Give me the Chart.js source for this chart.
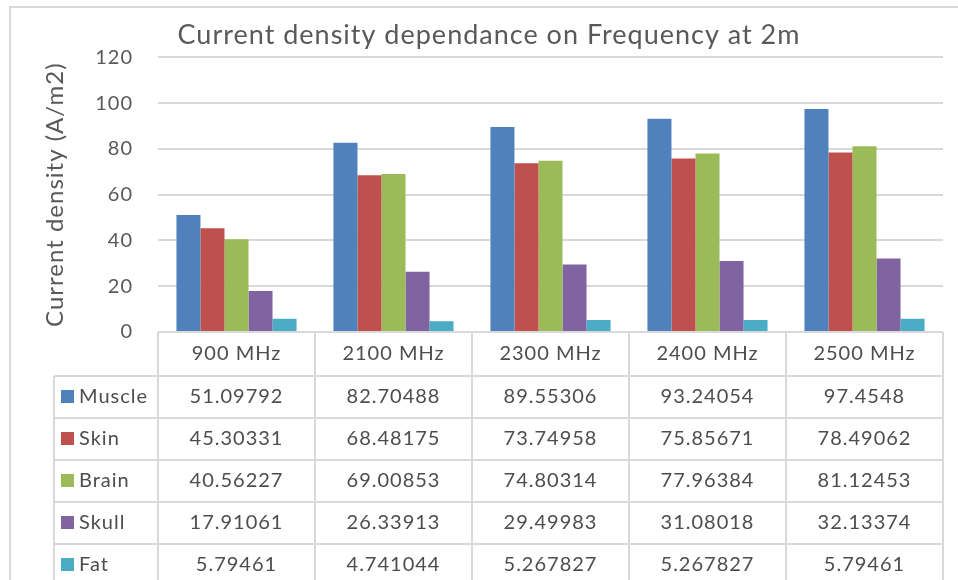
<!DOCTYPE html>
<html>
<head>
<meta charset="utf-8">
<script src="https://cdn.jsdelivr.net/npm/chart.js@4.4.1/dist/chart.umd.min.js"></script>
<style>
  html, body { margin: 0; padding: 0; background: #fff; }
  #wrap { width: 958px; height: 580px; position: relative; }
</style>
</head>
<body>
<div id="wrap"><canvas id="densityChart" width="958" height="580"></canvas></div>
<script>
const frequencies = ['900 MHz', '2100 MHz', '2300 MHz', '2400 MHz', '2500 MHz'];
const tissues     = ['Muscle', 'Skin', 'Brain', 'Skull', 'Fat'];
const tissueColors = ['#4F81BD', '#C0504D', '#9BBB59', '#8064A2', '#4BACC6'];

const muscle = [51.09792, 82.70488, 89.55306, 93.24054, 97.4548];
const skin   = [45.30331, 68.48175, 73.74958, 75.85671, 78.49062];
const brain  = [40.56227, 69.00853, 74.80314, 77.96384, 81.12453];
const skull  = [17.91061, 26.33913, 29.49983, 31.08018, 32.13374];
const fat    = [5.79461, 4.741044, 5.267827, 5.267827, 5.79461];

// cell text exactly as printed in the table
const muscleText = ['51.09792', '82.70488', '89.55306', '93.24054', '97.4548'];
const skinText   = ['45.30331', '68.48175', '73.74958', '75.85671', '78.49062'];
const brainText  = ['40.56227', '69.00853', '74.80314', '77.96384', '81.12453'];
const skullText  = ['17.91061', '26.33913', '29.49983', '31.08018', '32.13374'];
const fatText    = ['5.79461', '4.741044', '5.267827', '5.267827', '5.79461'];

const yTicks = [0, 20, 40, 60, 80, 100, 120];

const seriesValues = [muscle, skin, brain, skull, fat];
const seriesText   = [muscleText, skinText, brainText, skullText, fatText];

const FONT = 'Lato, "Open Sans", sans-serif';
const GRID = '#D9D9D9';

// frame around the whole chart (right and bottom run off the picture);
// also widen letter spacing a little, the original text is set loose
const framePlugin = {
  id: 'frame',
  beforeDraw(chart) {
    const ctx = chart.ctx;
    ctx.letterSpacing = '1px';
    ctx.save();
    ctx.strokeStyle = GRID;
    ctx.lineWidth = 2;
    ctx.strokeRect(10, 7, chart.width + 20, chart.height + 20);
    ctx.restore();
  }
};

// Excel-style data table under the plot, columns follow the x scale
const dataTablePlugin = {
  id: 'dataTable',
  afterDraw(chart) {
    const ctx = chart.ctx;
    const x = chart.scales.x;
    const area = chart.chartArea;
    const w = (area.right - area.left) / frequencies.length;
    const headTop = area.bottom;
    const headH = 44;
    const rowH = 42;
    const labelLeft = 54;
    const rowsTop = headTop + headH;
    const rowsBottom = rowsTop + rowH * tissues.length;

    ctx.save();
    ctx.letterSpacing = '1px';
    ctx.strokeStyle = GRID;
    ctx.lineWidth = 2;
    ctx.beginPath();
    // header row
    ctx.moveTo(area.left, headTop); ctx.lineTo(area.right, headTop);
    // row lines
    for (let r = 0; r <= tissues.length; r++) {
      const y = rowsTop + r * rowH;
      ctx.moveTo(labelLeft, y); ctx.lineTo(area.right, y);
    }
    // vertical lines
    for (let c = 0; c <= frequencies.length; c++) {
      const xx = area.left + c * w;
      ctx.moveTo(xx, headTop); ctx.lineTo(xx, rowsBottom);
    }
    ctx.moveTo(labelLeft, rowsTop); ctx.lineTo(labelLeft, rowsBottom);
    ctx.stroke();

    ctx.font = '20px ' + FONT;
    ctx.fillStyle = '#4D4D4D';
    ctx.textAlign = 'center';
    ctx.textBaseline = 'middle';
    frequencies.forEach((f, i) => {
      ctx.fillText(f, x.getPixelForValue(i), headTop + headH / 2);
    });

    tissues.forEach((t, r) => {
      const cy = rowsTop + r * rowH + rowH / 2;
      ctx.fillStyle = tissueColors[r];
      ctx.fillRect(61, cy - 7, 13, 13);
      ctx.fillStyle = '#4D4D4D';
      ctx.textAlign = 'left';
      ctx.fillText(t, 79, cy);
      ctx.textAlign = 'center';
      seriesText[r].forEach((v, i) => {
        ctx.fillText(v, x.getPixelForValue(i), cy);
      });
    });
    ctx.restore();
  }
};

const ctx = document.getElementById('densityChart').getContext('2d');
new Chart(ctx, {
  type: 'bar',
  data: {
    labels: frequencies,
    datasets: tissues.map((t, i) => ({
      label: t,
      data: seriesValues[i],
      backgroundColor: tissueColors[i],
      borderWidth: 0,
      categoryPercentage: 0.765,
      barPercentage: 1.0,
    })),
  },
  options: {
    responsive: false,
    animation: false,
    layout: { padding: { left: 35, right: 15, top: 5, bottom: 248 } },
    plugins: {
      legend: { display: false },
      tooltip: { enabled: false },
      title: {
        display: true,
        text: 'Current density dependance on Frequency at 2m',
        color: '#595959',
        font: { family: FONT, size: 27, weight: 'normal' },
        padding: { top: 14, bottom: 6 },
      },
    },
    scales: {
      x: { display: false },
      y: {
        min: 0,
        max: 120,
        afterBuildTicks(scale) {
          scale.ticks = yTicks.map(v => ({ value: v }));
        },
        afterFit(scale) { scale.width = 123; },
        border: { display: false },
        grid: { color: GRID, lineWidth: 2, drawTicks: false },
        ticks: {
          color: '#595959',
          padding: 25,
          font: { family: FONT, size: 20 },
        },
        title: {
          display: true,
          text: 'Current density (A/m2)',
          color: '#595959',
          font: { family: FONT, size: 24 },
          padding: { top: 6, bottom: 0 },
        },
      },
    },
  },
  plugins: [framePlugin, dataTablePlugin],
});
</script>
</body>
</html>
